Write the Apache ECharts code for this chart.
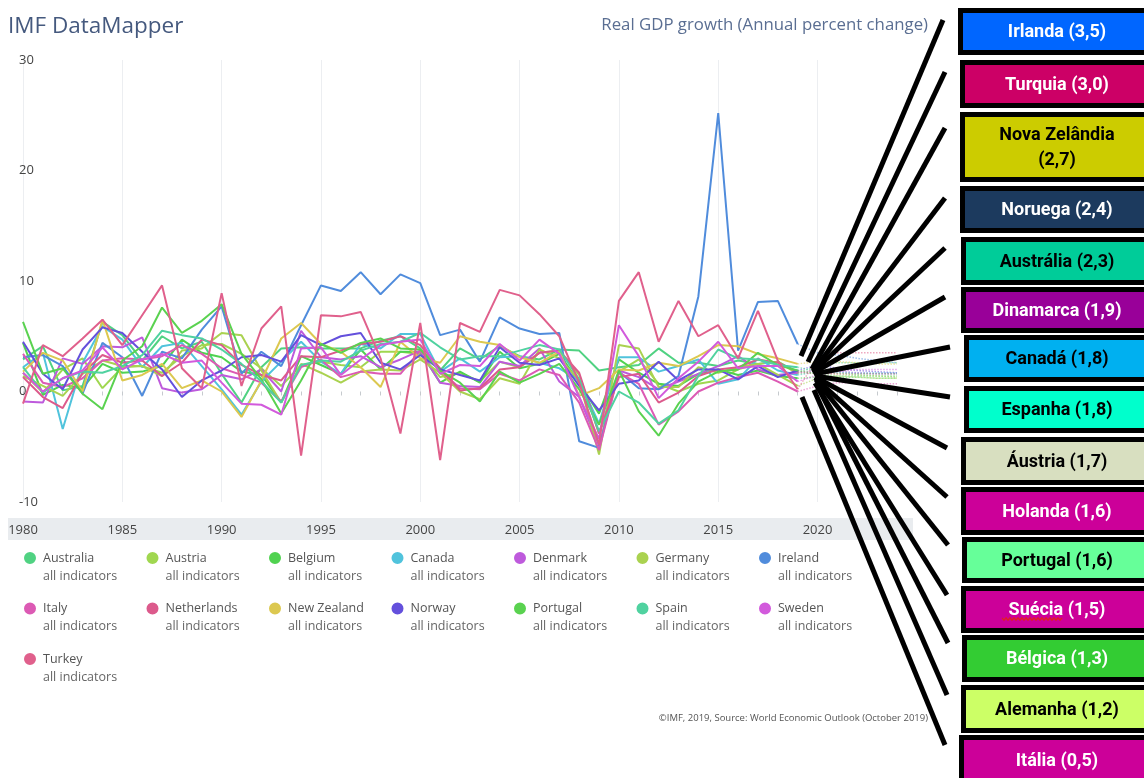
<!DOCTYPE html>
<html>
<head>
<meta charset="utf-8">
<title>IMF DataMapper - Real GDP growth</title>
<script src="https://cdn.jsdelivr.net/npm/echarts@6/dist/echarts.min.js"></script>
<style>
  html, body { margin: 0; padding: 0; background: #fff; }
  #chart { width: 1144px; height: 778px; }
</style>
</head>
<body>
<div id="chart"></div>
<script>
// anos do eixo x (1980-2019 observado, 2020-2024 projeção)
var years = ['1980','1981','1982','1983','1984','1985','1986','1987','1988','1989',
             '1990','1991','1992','1993','1994','1995','1996','1997','1998','1999',
             '2000','2001','2002','2003','2004','2005','2006','2007','2008','2009',
             '2010','2011','2012','2013','2014','2015','2016','2017','2018','2019',
             '2020','2021','2022','2023','2024'];
var yTicks = [-10, 0, 10, 20, 30];

var countries = ['Australia','Austria','Belgium','Canada','Denmark','Germany','Ireland',
                 'Italy','Netherlands','New Zealand','Norway','Portugal','Spain','Sweden','Turkey'];
var lineColors = ['#50d282','#a0d750','#50d250','#50c3dc','#be5adc','#aad250','#508cdc',
                  '#dc5ab4','#dc5a8c','#dcc850','#6450dc','#5ad250','#50d2a0','#d25adc','#e0608c'];

// crescimento real do PIB, 1980-2019
var australia   = [2.9,4.1,0.1,0.5,6.3,5.1,2.8,5.0,3.9,4.5, 1.6,-1.0,2.2,3.9,4.0,3.9,3.9,3.9,4.6,5.0, 3.9,1.9,3.9,2.9,4.1,3.2,2.9,3.8,3.7,1.9, 2.2,2.4,3.9,2.6,2.6,2.3,2.8,2.5,2.7,1.7];
var austria     = [1.7,-0.1,2.0,3.0,0.3,2.2,2.3,1.7,3.2,4.2, 4.3,3.4,2.1,0.5,2.4,2.7,2.4,2.2,3.6,3.6, 3.4,1.3,1.7,0.9,2.7,2.2,3.5,3.7,1.5,-3.8, 1.8,2.9,0.7,0.0,0.7,1.0,2.0,2.5,2.7,1.6];
var belgium     = [4.4,-0.3,0.6,0.3,2.5,1.7,1.8,2.3,4.7,3.5, 3.1,1.8,1.5,-1.0,3.2,2.4,1.6,3.8,2.0,3.6, 3.6,0.8,1.8,0.8,3.6,2.1,2.5,3.4,0.8,-2.0, 2.9,1.7,0.7,0.5,1.6,2.0,1.5,1.9,1.4,1.2];
var canada      = [2.2,3.5,-3.4,2.6,5.9,4.7,2.2,4.1,4.4,2.3, 0.2,-2.1,0.9,2.7,4.5,2.7,1.6,4.3,3.9,5.2, 5.2,1.8,3.0,1.8,3.1,3.2,2.6,2.1,1.0,-2.9, 3.1,3.1,1.8,2.3,2.9,0.7,1.1,3.0,1.9,1.5];
var denmark     = [-0.9,-1.0,3.0,2.5,4.1,4.0,4.9,0.3,-0.1,0.2, 1.5,1.1,2.0,0.0,5.5,3.1,2.9,3.2,2.2,2.9, 3.7,0.8,0.5,0.4,2.7,2.3,3.9,0.9,-0.5,-4.9, 1.9,1.3,0.2,0.9,1.6,2.3,3.2,2.0,1.5,1.7];
var germany     = [1.4,0.5,-0.4,1.6,2.8,2.3,2.3,1.4,3.7,3.9, 5.3,5.1,1.9,-1.0,2.5,1.7,0.8,1.8,2.0,1.9, 2.9,1.7,0.0,-0.7,1.2,0.7,3.8,3.0,1.0,-5.7, 4.2,3.9,0.4,0.4,2.2,1.7,2.2,2.5,1.5,0.5];
var ireland     = [3.1,3.3,2.3,-0.2,4.4,3.1,-0.4,3.6,3.0,5.6, 7.7,1.6,3.6,2.3,6.0,9.6,9.1,10.8,8.8,10.6, 9.8,5.1,5.6,2.7,6.7,5.7,5.2,5.3,-4.5,-5.1, 1.8,0.3,0.2,1.4,8.6,25.2,3.7,8.1,8.2,4.3];
var italy       = [3.4,0.8,0.4,1.2,2.8,3.0,2.9,3.2,4.2,3.4, 2.1,1.5,0.8,-0.9,2.2,2.9,1.3,1.8,1.6,1.6, 3.7,1.9,0.3,0.2,1.6,1.0,2.0,1.5,-1.0,-5.3, 1.7,0.7,-3.0,-1.8,0.0,0.8,1.3,1.7,0.9,0.0];
var netherlands = [1.3,-0.5,-1.5,1.7,3.3,2.6,2.8,1.4,2.6,4.7, 4.2,2.4,1.5,1.0,3.2,3.1,3.7,4.3,4.5,5.0, 4.2,2.1,0.1,0.3,2.0,2.2,3.5,3.7,1.7,-3.8, 1.3,1.6,-1.0,-0.1,1.4,2.0,2.2,2.9,2.6,1.8];
var newZealand  = [1.8,3.5,2.8,0.0,6.5,1.0,1.5,2.5,0.3,1.0, 0.0,-2.3,1.0,4.8,6.2,4.3,3.6,2.2,0.4,4.5, 3.0,2.6,5.0,4.5,4.2,3.1,2.6,3.6,-0.4,0.3, 2.0,1.9,2.6,2.3,3.2,4.2,4.1,3.4,3.0,2.5];
var norway      = [4.5,1.6,0.2,3.8,5.8,5.3,3.6,2.0,-0.5,1.0, 1.9,3.1,3.3,2.7,5.1,4.2,5.0,5.3,2.6,2.0, 3.3,2.0,1.5,1.0,4.0,2.6,2.4,3.0,0.5,-1.7, 0.7,1.0,2.7,1.0,2.0,2.0,1.1,2.3,1.3,1.9];
var portugal    = [6.3,1.6,2.1,-0.2,-1.6,2.8,4.1,7.6,5.3,6.4, 7.9,3.4,1.1,-2.0,1.0,4.3,3.5,4.4,4.8,3.9, 3.8,1.9,0.8,-0.9,1.8,0.8,1.6,2.5,0.2,-3.0, 1.9,-1.8,-4.0,-1.1,0.9,1.8,2.0,3.5,2.4,1.9];
var spain       = [2.2,-0.1,1.2,1.8,1.7,2.3,3.3,5.5,5.1,4.8, 3.8,2.5,0.9,-1.0,2.4,2.8,2.7,3.7,4.3,4.5, 5.3,4.0,2.9,3.2,3.2,3.7,4.2,3.8,1.1,-3.6, 0.0,-1.0,-2.9,-1.7,1.4,3.8,3.0,2.9,2.4,2.2];
var sweden      = [1.7,0.0,1.2,1.9,4.0,2.0,2.9,3.4,2.6,2.8, 0.8,-1.1,-1.2,-2.1,3.9,4.0,1.5,2.9,4.2,4.5, 4.7,1.6,2.4,2.3,4.3,2.8,4.7,3.4,-0.5,-4.3, 6.0,3.2,-0.6,1.2,2.7,4.5,2.1,2.3,2.3,0.9];
var turkey      = [-1.1,4.2,3.2,4.8,6.5,4.2,6.9,9.6,2.1,0.3, 8.9,0.5,5.7,7.7,-5.8,6.9,6.8,7.2,3.0,-3.8, 6.2,-6.2,6.2,5.4,9.2,8.7,7.0,5.0,0.8,-4.8, 8.2,10.8,4.5,8.2,5.0,6.0,3.0,7.3,2.8,0.2];

// projeções 2020-2024
var australiaProj   = [2.3,2.6,2.6,2.6,2.6];
var austriaProj     = [1.7,1.6,1.5,1.4,1.3];
var belgiumProj     = [1.3,1.3,1.3,1.2,1.2];
var canadaProj      = [1.8,1.8,1.7,1.7,1.7];
var denmarkProj     = [1.9,1.8,1.7,1.6,1.6];
var germanyProj     = [1.2,1.4,1.3,1.2,1.2];
var irelandProj     = [3.5,3.3,3.0,2.8,2.6];
var italyProj       = [0.5,0.8,0.8,0.7,0.7];
var netherlandsProj = [1.6,1.6,1.6,1.6,1.6];
var newZealandProj  = [2.7,2.7,2.6,2.5,2.5];
var norwayProj      = [2.4,2.1,1.9,1.8,1.7];
var portugalProj    = [1.6,1.4,1.4,1.4,1.4];
var spainProj       = [1.8,1.7,1.6,1.6,1.6];
var swedenProj      = [1.5,1.8,2.0,2.0,2.0];
var turkeyProj      = [3.0,3.5,3.5,3.5,3.5];

var actual = [australia, austria, belgium, canada, denmark, germany, ireland,
              italy, netherlands, newZealand, norway, portugal, spain, sweden, turkey];
var projected = [australiaProj, austriaProj, belgiumProj, canadaProj, denmarkProj, germanyProj, irelandProj,
                 italyProj, netherlandsProj, newZealandProj, norwayProj, portugalProj, spainProj, swedenProj, turkeyProj];

// caixas da direita (previsão 2020)
var boxNames  = ['Irlanda','Turquia','Nova Zelândia','Noruega','Austrália','Dinamarca','Canadá','Espanha',
                 'Áustria','Holanda','Portugal','Suécia','Bélgica','Alemanha','Itália'];
var boxValues = [3.5, 3.0, 2.7, 2.4, 2.3, 1.9, 1.8, 1.8, 1.7, 1.6, 1.6, 1.5, 1.3, 1.2, 0.5];

// estilo / posição das caixas e das linhas pretas
var boxFill = ['#0066ff','#cc0066','#cccc00','#1c3a5e','#00cc99','#990099','#00b0f0','#00ffcc',
               '#d8dfc0','#cc0099','#66ff99','#cc0099','#33cc33','#ccff66','#cc0099'];
var boxInk  = ['#fff','#fff','#000','#fff','#000','#fff','#000','#000',
               '#000','#fff','#000','#fff','#fff','#000','#fff'];
var boxLeft = [958, 960, 960, 960, 961, 961, 964, 964, 961, 961, 962, 961, 962, 961, 959];
var boxTop  = [8, 60, 112, 186, 237, 287, 335, 386, 437, 487, 537, 586, 635, 685, 735];
var boxH    = [47, 48, 70, 47, 48, 46, 47, 47, 48, 48, 46, 47, 47, 48, 50];
var lineFrom = [[801,356],[808,362],[812,369],[813,371],[813,372],[813,373],[814,374],[815,376],
                [815,377],[815,378],[816,380],[815,383],[818,387],[814,390],[802,397]];
var lineTo   = [[943,20],[945,72],[945,128],[945,198],[945,248],[945,297],[950,347],[950,397],
                [947,448],[947,497],[948,545],[947,595],[948,643],[947,695],[945,745]];

var font = '"Open Sans", "DejaVu Sans", sans-serif';
var chart = echarts.init(document.getElementById('chart'));

var series = [];
countries.forEach(function (name, i) {
  series.push({
    name: name,
    type: 'line',
    data: actual[i],
    symbol: 'none',
    z: 3,
    itemStyle: { color: lineColors[i] },
    lineStyle: { color: lineColors[i], width: 2 }
  });
  var proj = actual[i].map(function () { return null; });
  proj[proj.length - 1] = actual[i][actual[i].length - 1];
  series.push({
    name: name,
    type: 'line',
    data: proj.concat(projected[i]),
    symbol: 'none',
    z: 2,
    itemStyle: { color: lineColors[i] },
    lineStyle: { color: lineColors[i], width: 1.5, type: 'dotted', opacity: 0.55 }
  });
});

// circulo alinhado com a primeira linha do texto da legenda
var legendIcon = 'path://M0,0L0.01,0M0,12A6,6 0 1,1 12,12A6,6 0 1,1 0,12ZM0,42L0.01,42';

var graphics = [
  { type: 'rect', z: -1, shape: { x: 8, y: 518, width: 905, height: 22 }, style: { fill: '#e9ecef' } }
];

boxNames.forEach(function (n, i) {
  graphics.push({
    type: 'line', z: 50,
    shape: { x1: lineFrom[i][0], y1: lineFrom[i][1], x2: lineTo[i][0], y2: lineTo[i][1] },
    style: { stroke: '#000', lineWidth: 5 }
  });
});

boxNames.forEach(function (n, i) {
  var v = boxValues[i].toFixed(1).replace('.', ',');
  var label = n.length > 10 ? n + '\n(' + v + ')' : n + ' (' + v + ')';
  graphics.push({
    type: 'rect', z: 60,
    shape: { x: boxLeft[i] + 2.5, y: boxTop[i] + 2.5, width: 1160 - boxLeft[i], height: boxH[i] - 5 },
    style: { fill: boxFill[i], stroke: '#000', lineWidth: 5 }
  });
  graphics.push({
    type: 'text', z: 61,
    x: 1057, y: boxTop[i] + boxH[i] / 2 + 1,
    style: {
      text: label, fill: boxInk[i], align: 'center', verticalAlign: 'middle',
      font: 'bold 18px Roboto, "DejaVu Sans", sans-serif', lineHeight: 25
    }
  });
});

// sublinhado ondulado do corretor em "Suécia"
var squiggle = [];
for (var sx = 1002; sx <= 1063; sx += 2) {
  squiggle.push([sx, 619 + ((sx - 1002) / 2 % 2 === 0 ? -1.2 : 1.2)]);
}
graphics.push({ type: 'polyline', z: 62, shape: { points: squiggle }, style: { stroke: '#e02020', lineWidth: 1.2, fill: null } });

var option = {
  animation: false,
  backgroundColor: '#fff',
  title: [
    { text: 'IMF DataMapper', left: 8, top: 15, padding: 0,
      textStyle: { fontFamily: font, fontSize: 22.5, fontWeight: 'normal', color: '#45597e' } },
    { text: 'Real GDP growth (Annual percent change)', right: 216, top: 17, padding: 0,
      textStyle: { fontFamily: font, fontSize: 16.8, fontWeight: 'normal', color: '#5a6e92' } },
    { text: '©IMF, 2019, Source: World Economic Outlook (October 2019)', right: 216, top: 713, padding: 0,
      textStyle: { fontFamily: font, fontSize: 9.5, fontWeight: 'normal', color: '#555' } }
  ],
  grid: { left: 23, right: 247, top: 60, bottom: 276, containLabel: false, outerBoundsMode: 'none' },
  xAxis: {
    type: 'category',
    data: years,
    boundaryGap: false,
    offset: 16,
    axisLine: { show: false },
    axisTick: { show: true, interval: 0, length: 4, lineStyle: { color: '#c6cace' } },
    axisLabel: {
      interval: function (i) { return i % 5 === 0 && i <= 40; },
      margin: 6, color: '#444', fontSize: 13, fontFamily: font
    },
    splitLine: {
      show: true,
      interval: function (i) { return i % 5 === 0 && i <= 40; },
      lineStyle: { color: '#eceef1', width: 1 }
    }
  },
  yAxis: {
    type: 'value',
    min: yTicks[0],
    max: yTicks[yTicks.length - 1],
    interval: 10,
    axisLine: { show: false },
    axisTick: { show: false },
    splitLine: { show: false },
    axisLabel: { align: 'left', margin: 4, color: '#444', fontSize: 13, fontFamily: font }
  },
  legend: {
    data: countries.map(function (n) { return { name: n, icon: legendIcon }; }),
    left: 24, top: 546, width: 860,
    padding: 0,
    itemWidth: 12, itemHeight: 42, itemGap: 8.5,
    selectedMode: false,
    formatter: function (n) { return '{a|' + n + '}\n{b|all indicators}'; },
    textStyle: {
      lineHeight: 18,
      rich: {
        a: { fontFamily: font, fontSize: 12.5, color: '#555', lineHeight: 18, width: 95, padding: [0, 0, 0, 2] },
        b: { fontFamily: font, fontSize: 12.5, color: '#666', lineHeight: 18, width: 95, padding: [0, 0, 0, 2] }
      }
    }
  },
  graphic: graphics,
  series: series
};

chart.setOption(option);
</script>
</body>
</html>
